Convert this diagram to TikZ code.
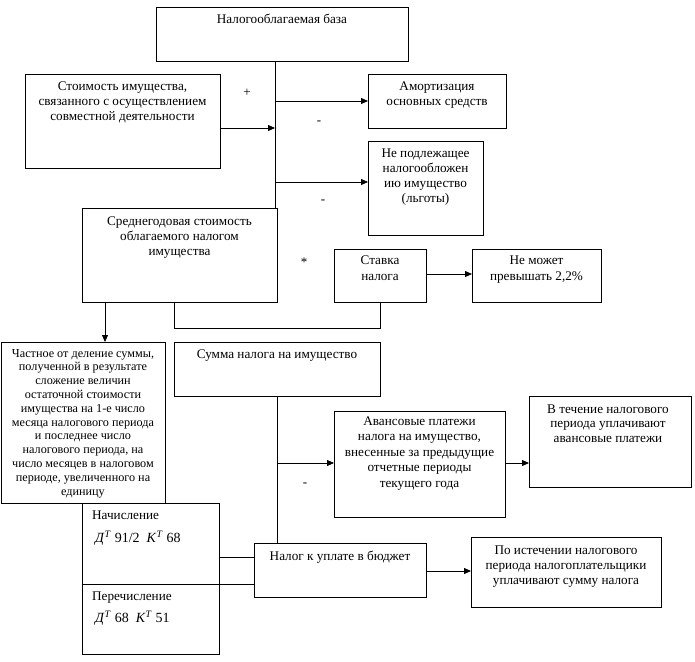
\documentclass[tikz,border=0pt]{standalone}
\usepackage{fontspec}
\setmainfont{Liberation Serif}
\usetikzlibrary{arrows.meta,calc}
\begin{document}
\begin{tikzpicture}[x=1pt,y=-1pt,
  box/.style={draw, line width=0.8pt, inner sep=0pt, outer sep=0pt, anchor=north west},
  txt/.style={inner sep=0pt, align=center, anchor=north, font=\fontsize{13.2}{15}\selectfont},
  sgn/.style={inner sep=0pt, font=\fontsize{13}{15}\selectfont},
  ln/.style={line width=0.8pt},
  arr/.style={line width=0.8pt, -{Triangle[length=7pt,width=6pt]}}]
\useasboundingbox (0,0) rectangle (695,661);
\newcommand\mkbox[5]{\node[box, minimum width={(#4)-(#2)}, minimum height={(#5)-(#3)}] (#1) at (#2,#3) {};}
\mkbox{base}{156}{7}{408}{61}
\mkbox{cost}{25}{74}{220}{168}
\mkbox{amort}{368}{74}{506}{128}
\mkbox{nontax}{368}{141}{483}{235}
\mkbox{avg}{82}{208}{277}{302}
\mkbox{rate}{334}{249}{426}{302}
\mkbox{limit}{472}{249}{601}{302}
\mkbox{quot}{1}{342}{165}{503}
\mkbox{sum}{174}{342}{380}{396}
\mkbox{adv}{334}{411}{505}{517}
\mkbox{during}{529}{396}{691}{487}
\mkbox{nach}{82}{503}{219}{584}
\mkbox{perech}{82}{584}{219}{654}
\mkbox{pay}{254}{543}{426}{597}
\mkbox{expiry}{471}{537}{661}{607}
% texts
\node[txt] (tbase) at (282,14) {Налогооблагаемая база};
\node[txt] (tcost) at (122.5,81.5) {Стоимость имущества,\\связанного с осуществлением\\совместной деятельности};
\node[txt] (tamort) at (437,81.5) {Амортизация\\основных средств};
\node[txt] (tnontax) at (425.5,148.5) {Не подлежащее\\налогообложен\\ию имущество\\(льготы)};
\node[txt] (tavg) at (179.5,216.5) {Среднегодовая стоимость\\облагаемого налогом\\имущества};
\node[txt, font=\fontsize{13.2}{16}\selectfont] (trate) at (380,255.5) {Ставка\\налога};
\node[txt, font=\fontsize{13.2}{16}\selectfont] (tlimit) at (536.5,255.5) {Не может\\превышать 2,2\%};
\node[txt, font=\fontsize{12.2}{13.8}\selectfont] (tquot) at (83,349) {Частное от деление суммы,\\полученной в результате\\сложение величин\\остаточной стоимости\\имущества на 1-е число\\месяца налогового периода\\и последнее число\\налогового периода, на\\число месяцев в налоговом\\периоде, увеличенного на\\единицу};
\node[txt] (tsum) at (277,349.5) {Сумма налога на имущество};
\node[txt, font=\fontsize{13.2}{15.5}\selectfont] (tadv) at (419.5,416.5) {Авансовые платежи\\налога на имущество,\\внесенные за предыдущие\\отчетные периоды\\текущего года};
\node[txt, font=\fontsize{13.2}{14.5}\selectfont] (tduring) at (608,404.5) {В течение налогового\\периода уплачивают\\авансовые платежи};
\node[txt, anchor=north west] (tnach) at (92,510.5) {Начисление};
\node[txt, anchor=north west, font=\fontsize{14}{16}\selectfont] (tdk1) at (95,531) {\textit{Д}\textsuperscript{\textit{T}} 91/2 \ \textit{K}\textsuperscript{\textit{T}} 68};
\node[txt, anchor=north west] (tperech) at (92,591.5) {Перечисление};
\node[txt, anchor=north west, font=\fontsize{14}{16}\selectfont] (tdk2) at (95,611) {\textit{Д}\textsuperscript{\textit{T}} 68 \ \textit{K}\textsuperscript{\textit{T}} 51};
\node[txt] (tpay) at (340,550.5) {Налог к уплате в бюджет};
\node[txt] (texpiry) at (566,545.5) {По истечении налогового\\периода налогоплательщики\\уплачивают сумму налога};
% signs
\node[sgn] (plus) at (247,93) {+};
\node[sgn] (m1) at (319,123) {-};
\node[sgn] (m2) at (323,202) {-};
\node[sgn] (star) at (304,262) {*};
\node[sgn] (m3) at (305,485) {-};
% connector helpers
\coordinate (vx) at (275,0);
\coordinate (j1) at (275,128);
\coordinate (j2) at (275,101);
\coordinate (j3) at (275,182);
\coordinate (ax) at (105,0);
\coordinate (lx) at (174,0);
\coordinate (ly) at (0,328);
\coordinate (rx) at (380,0);
\coordinate (sx) at (277,0);
\coordinate (j4) at (277,463);
\coordinate (y1) at (0,557);
\coordinate (y2) at (0,584);
\coordinate (y3) at (0,571);
\coordinate (y4) at (0,274);
% connectors
\draw[ln] (base.south -| vx) -- (avg.north -| vx);
\draw[arr] (j1 -| cost.east) -- (j1);
\draw[arr] (j2) -- (j2 -| amort.west);
\draw[arr] (j3) -- (j3 -| nontax.west);
\draw[arr] (avg.south -| ax) -- (quot.north -| ax);
\draw[ln] (avg.south -| lx) -- (lx |- ly) -- (rx |- ly) -- (rate.south -| rx);
\draw[arr] (rate.east |- y4) -- (limit.west |- y4);
\draw[ln] (sum.south -| sx) -- (pay.north -| sx);
\draw[arr] (j4) -- (j4 -| adv.west);
\draw[arr] (adv.east |- j4) -- (during.west |- j4);
\draw[ln] (nach.east |- y1) -- (pay.west |- y1);
\draw[ln] (nach.east |- y2) -- (pay.west |- y2);
\draw[arr] (pay.east |- y3) -- (expiry.west |- y3);
\end{tikzpicture}
\end{document}
